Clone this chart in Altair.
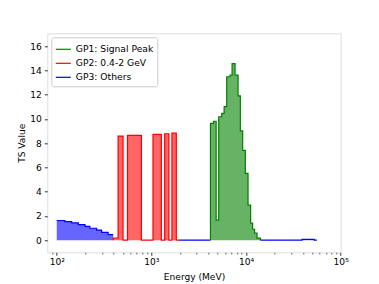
import altair as alt
import pandas as pd

# ---- data (bin edges in MeV, TS per bin) ----
groups = ["GP1: Signal Peak", "GP2: 0.4-2 GeV", "GP3: Others"]
colors = ["#008000", "#ff0000", "#0000ff"]

blue1_edges = [100, 122, 144, 169, 199, 224, 264, 298, 349, 395]
blue1_ts = [1.62, 1.52, 1.42, 1.28, 1.13, 0.98, 0.83, 0.65, 0.45]

red_edges = [395, 445, 502, 559, 785, 1040, 1274, 1381, 1531, 1648, 1833, 1953]
red_ts = [0.18, 8.58, 0, 8.63, 0, 8.72, 0, 8.77, 0, 8.82, 0]

blue2_edges = [1953, 4209]
blue2_ts = [0]

green_edges = [4209, 4527, 4833, 5146, 5537, 5868, 6249, 6785, 7122, 7660,
               8238, 8710, 9209, 9831, 10498, 11183, 11735, 12316, 13055, 14200]
green_ts = [9.62, 9.8, 1.65, 10.17, 10.45, 11.0, 13.47, 13.6, 14.55, 13.6,
            11.9, 9.0, 7.4, 5.5, 2.88, 1.4, 0.9, 0.58, 0.17]

blue3_edges = [14200, 39100, 52400, 56000]
blue3_ts = [0, 0.06, 0]

x_major = [100, 1000, 10000, 100000]
x_minor = [90, 200, 300, 400, 500, 600, 700, 800, 900,
           2000, 3000, 4000, 5000, 6000, 7000, 8000, 9000,
           20000, 30000, 40000, 50000, 60000, 70000, 80000, 90000]
y_ticks = [0, 2, 4, 6, 8, 10, 12, 14, 16]

segments = [
    ("b1", groups[2], blue1_edges, blue1_ts, False, False),
    ("r1", groups[1], red_edges, red_ts, True, True),
    ("b2", groups[2], blue2_edges, blue2_ts, False, False),
    ("g1", groups[0], green_edges, green_ts, True, True),
    ("b3", groups[2], blue3_edges, blue3_ts, False, False),
]

rows = []
for seg, grp, edges, ts, lead0, end0 in segments:
    i = 0
    if lead0:
        rows.append({"E": edges[0], "TS": 0.0, "base": 0.0, "group": grp, "seg": seg, "i": i}); i += 1
    for e, v in zip(edges[:-1], ts):
        rows.append({"E": e, "TS": v, "base": 0.0, "group": grp, "seg": seg, "i": i}); i += 1
    rows.append({"E": edges[-1], "TS": 0.0 if end0 else ts[-1], "base": 0.0, "group": grp, "seg": seg, "i": i})
df = pd.DataFrame(rows)

FONT = "DejaVu Sans"
FS = 9.1
LFS = 9.2

major_test = " || ".join(f"datum.value == {v}" for v in x_major)
label_expr = ("datum.value == 100 ? '10²' : datum.value == 1000 ? '10³' : "
              "datum.value == 10000 ? '10⁴' : datum.value == 100000 ? '10⁵' : ''")

x_enc = alt.X(
    "E:Q",
    scale=alt.Scale(type="log", domain=[79.5, 100000], nice=False),
    axis=alt.Axis(
        values=x_major + x_minor,
        labelExpr=label_expr,
        title="Energy (MeV)",
        grid=False,
        domain=False,
        tickSize={"condition": {"test": major_test, "value": 3}, "value": 1.7},
        tickWidth={"condition": {"test": major_test, "value": 0.8}, "value": 0.6},
        tickColor="black",
        labelPadding=2,
        labelFont=FONT,
        labelFontSize=FS,
        labelColor="black",
        titleFont=FONT,
        titleFontSize=FS,
        titleFontWeight="normal",
        titleColor="black",
        titlePadding=6,
        labelFlush=False,
        labelOverlap=False,
    ),
)
y_enc = alt.Y(
    "TS:Q",
    stack=None,
    scale=alt.Scale(domain=[-1, 17.05], nice=False, zero=False),
    axis=alt.Axis(
        values=y_ticks,
        title="TS Value",
        grid=False,
        domain=False,
        tickSize=3,
        tickWidth=0.8,
        tickColor="black",
        labelPadding=3,
        labelFont=FONT,
        labelFontSize=FS,
        labelColor="black",
        titleFont=FONT,
        titleFontSize=FS,
        titleFontWeight="normal",
        titleColor="black",
        titlePadding=3,
    ),
)
legend = alt.Legend(
    title=None,
    orient="top-left",
    offset=4,
    padding=3.5,
    fillColor="white",
    strokeColor="#cccccc",
    cornerRadius=2,
    symbolType="stroke",
    symbolStrokeWidth=1.2,
    symbolSize=225,
    symbolOpacity=1,
    labelFont=FONT,
    labelFontSize=LFS,
    labelColor="black",
    labelOffset=4,
    rowPadding=-2.5,
)
color_enc = alt.Color("group:N", scale=alt.Scale(domain=groups, range=colors), legend=legend)

base = alt.Chart(df)
area = base.mark_area(interpolate="step-after", opacity=0.6).encode(
    x=x_enc, y=y_enc, y2="base:Q", color=color_enc, detail="seg:N"
)
line = base.mark_line(interpolate="step-after", strokeWidth=1.2).encode(
    x=x_enc, y=y_enc, color=color_enc, detail="seg:N", order=alt.Order("i:Q")
)

chart = (
    alt.layer(area, line)
    .properties(
        width=293.4,
        height=219,
        autosize=alt.AutoSizeParams(type="none"),
        padding={"left": 39.3, "top": 25.3, "right": 30, "bottom": 32},
    )
    .configure_view(stroke="black", strokeWidth=0.8)
    .configure(background="white", font=FONT)
)

chart.save("out.html", embed_options={"renderer": "svg", "actions": False})
